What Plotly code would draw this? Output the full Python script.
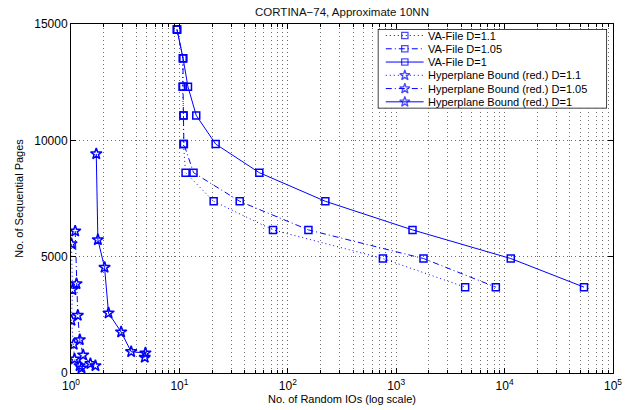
import plotly.graph_objects as go

# Sequential pages (y) and random IOs (x) for each method / approximation factor
va_pages = [14760, 13530, 12300, 11070, 9840, 8610, 7380, 6150, 4920, 3690]
va_io_d11 = [9.5, 10.8, 10.7, 10.9, 10.9, 11.4, 20.7, 73, 754, 4325]
va_io_d105 = [9.5, 10.8, 10.8, 10.9, 11.0, 13.5, 36, 155, 1786, 8300]
va_io_d1 = [9.5, 10.8, 12.0, 14.3, 21.6, 54.6, 222, 1414, 11400, 54000]

hp_pages_d11 = [5554, 3578, 2260, 1229, 601, 313, 215]
hp_io_d11 = [1.01, 1.032, 1.01, 1.06, 1.077, 1.20, 1.25]
hp_pages_d105 = [6100, 3836, 2474, 1430, 773, 400, 313]
hp_io_d105 = [1.093, 1.124, 1.155, 1.205, 1.295, 1.51, 1.68]
hp_pages_d1 = [9420, 5726, 4537, 2577, 1761, 915, 859, 670]
hp_io_d1 = [1.71, 1.77, 2.04, 2.22, 2.90, 3.59, 4.86, 4.79]

DOT = "1px,3px"
DASHDOT = "6px,3px,1px,3px"

series = [
    ("VA-File D=1.1", va_io_d11, va_pages, DOT, "square-open", 7),
    ("VA-File D=1.05", va_io_d105, va_pages, DASHDOT, "square-open", 7),
    ("VA-File D=1", va_io_d1, va_pages, "solid", "square-open", 7),
    ("Hyperplane Bound (red.) D=1.1", hp_io_d11, hp_pages_d11, DOT, "star-open", 8.5),
    ("Hyperplane Bound (red.) D=1.05", hp_io_d105, hp_pages_d105, DASHDOT, "star-open", 8.5),
    ("Hyperplane Bound (red.) D=1", hp_io_d1, hp_pages_d1, "solid", "star-open", 8.5),
]

x_tickvals = [1, 10, 100, 1000, 10000, 100000]
x_ticktext = ["10<sup>%d</sup>" % i for i in range(6)]
x_minorvals = [m * 10 ** k for k in range(5) for m in range(2, 10)]
y_tickvals = [0, 5000, 10000, 15000]
y_ticktext = ["0", "5000", "10000", "15000"]

BLUE = "#0000ff"
FONT = "Liberation Sans, Arial, Helvetica, sans-serif"

fig = go.Figure()
for name, xs, ys, dash, sym, size in series:
    fig.add_trace(go.Scatter(
        x=xs, y=ys, name=name, mode="lines+markers", showlegend=False,
        line=dict(color=BLUE, width=1, dash=dash),
        marker=dict(symbol=sym, size=size, color=BLUE, line=dict(width=1.5, color=BLUE)),
    ))

# Compact boxed legend drawn on its own unit axes in the upper-right corner
n = len(series)
for i, (name, _, _, dash, sym, size) in enumerate(series):
    row_y = 1 - (i + 0.5) / n
    fig.add_trace(go.Scatter(
        x=[0.035, 0.118, 0.20], y=[row_y] * 3, xaxis="x2", yaxis="y2",
        mode="lines+markers", showlegend=False, hoverinfo="skip",
        line=dict(color=BLUE, width=1, dash=dash),
        marker=dict(symbol=sym, size=[0, size * 0.9, 0], color=BLUE,
                    line=dict(width=1.3, color=BLUE)),
    ))
    fig.add_annotation(x=0.215, y=row_y, xref="x2", yref="y2", text=name,
                       showarrow=False, xanchor="left", yanchor="middle",
                       borderpad=0, font=dict(size=11, color="black"))
fig.add_shape(type="rect", xref="x2", yref="y2", x0=0, x1=1, y0=0, y1=1,
              line=dict(color="black", width=1.5), fillcolor="white", layer="below")

grid_col = "rgba(70,70,70,0.8)"
GRID_DASH = "1px,3px"
fig.update_layout(
    width=631, height=410,
    margin=dict(l=71, r=18, t=24, b=37),
    paper_bgcolor="white", plot_bgcolor="white",
    font=dict(family=FONT, size=12, color="black"),
    title=dict(text="CORTINA\u221274, Approximate 10NN", x=0.542, xanchor="center",
               y=0.972, yanchor="middle", font=dict(size=11.5, color="#111")),
    showlegend=False,
    xaxis=dict(
        type="log", range=[0, 5], tickvals=x_tickvals, ticktext=x_ticktext,
        showline=True, linecolor="black", linewidth=1, mirror="ticks",
        ticks="inside", ticklen=5, tickcolor="black", ticklabelstandoff=2,
        showgrid=True, gridcolor=grid_col, griddash=GRID_DASH, gridwidth=1,
        minor=dict(tickvals=x_minorvals, ticks="inside", ticklen=3, tickcolor="black",
                   showgrid=True, gridcolor=grid_col, griddash=GRID_DASH, gridwidth=1),
        zeroline=False,
        title=dict(text="No. of Random IOs (log scale)", standoff=1, font=dict(size=11)),
        tickfont=dict(size=12), automargin=False,
    ),
    yaxis=dict(
        range=[0, 15000], tickvals=y_tickvals, ticktext=y_ticktext,
        showline=True, linecolor="black", linewidth=1, mirror="ticks",
        ticks="inside", ticklen=5, tickcolor="black",
        showgrid=True, gridcolor=grid_col, griddash=GRID_DASH, gridwidth=1,
        zeroline=False,
        title=dict(text="No. of Sequential Pages", standoff=8, font=dict(size=11)),
        tickfont=dict(size=12), automargin=False,
    ),
    xaxis2=dict(domain=[0.566, 0.989], range=[0, 1], anchor="y2",
                visible=False, fixedrange=True),
    yaxis2=dict(domain=[0.758, 0.986], range=[0, 1], anchor="x2",
                visible=False, fixedrange=True),
)

fig.write_html("out.html")
